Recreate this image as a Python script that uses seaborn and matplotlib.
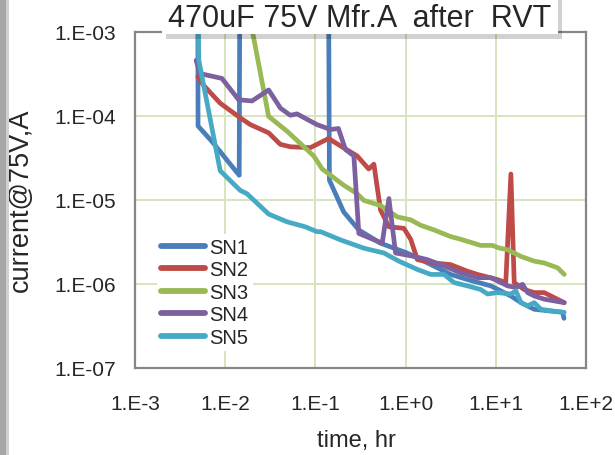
import numpy as np
import pandas as pd
import matplotlib
matplotlib.use("Agg")
import matplotlib.pyplot as plt
import matplotlib.ticker as mticker
from matplotlib.patches import Rectangle
import seaborn as sns

# leakage current vs time
sn1_t = [0.00497, 0.005, 0.0071, 0.0143, 0.0145, 0.14, 0.143, 0.206, 0.303, 0.527,
         1.04, 2.07, 3.16, 4.84, 8.8, 14.7, 19, 26.7, 55, 57]
sn1_i = [3e-3, 7.6e-5, 5.0e-5, 1.97e-5, 3e-3, 3e-3, 1.72e-5, 7.2e-6, 4.4e-6, 3.06e-6,
         2.34e-6, 1.63e-6, 1.3e-6, 1.13e-6, 9.5e-7, 7.2e-7, 6.0e-7, 5.0e-7, 4.6e-7, 3.9e-7]

sn2_t = [0.00497, 0.00574, 0.0088, 0.0147, 0.019, 0.0303, 0.0408, 0.0527, 0.088, 0.14,
         0.19, 0.29, 0.39, 0.445, 0.527, 0.653, 0.957, 1.14, 1.35, 2.07, 3.16, 4.84,
         6.26, 10.4, 12.9, 14.7, 16, 20.6, 26.7, 34.4, 57.4]
sn2_i = [2.93e-4, 2.33e-4, 1.42e-4, 9.5e-5, 7.9e-5, 6.3e-5, 4.6e-5, 4.3e-5, 4.2e-5, 5.4e-5,
         4.4e-5, 3.35e-5, 2.34e-5, 2.67e-5, 7.6e-6, 4.8e-6, 4.6e-6, 3.4e-6, 1.95e-6, 1.78e-6,
         1.7e-6, 1.42e-6, 1.3e-6, 1.13e-6, 1.04e-6, 2.04e-5, 1.04e-6, 8.6e-7, 7.9e-7, 7.9e-7,
         6.0e-7]

sn3_t = [0.0147, 0.0303, 0.0484, 0.0957, 0.119, 0.206, 0.29, 0.344, 0.527, 0.807, 1.14,
         1.47, 2.07, 3.16, 4.08, 6.8, 9.2, 10.9, 13.5, 19, 26.7, 34.4, 48.4, 57.4]
sn3_i = [5.8e-3, 9.9e-5, 6.6e-5, 3.35e-5, 2.34e-5, 1.5e-5, 1.19e-5, 9.9e-6, 8.6e-6, 6.3e-6,
         5.8e-6, 5.0e-6, 4.4e-6, 3.67e-6, 3.41e-6, 2.88e-6, 2.88e-6, 2.68e-6, 2.56e-6,
         2.13e-6, 1.87e-6, 1.78e-6, 1.56e-6, 1.3e-6]

sn4_t = [0.00476, 0.00527, 0.0092, 0.0141, 0.0198, 0.0303, 0.041, 0.0527, 0.0625, 0.104,
         0.147, 0.18, 0.215, 0.267, 0.303, 0.55, 0.653, 0.774, 1.24, 1.74, 2.45, 4.08, 6.26,
         8.8, 11.4, 13.5, 16.7, 19.8, 22.5, 26.7, 34.4, 57.4]
sn4_i = [4.6e-4, 3.2e-4, 2.8e-4, 1.56e-4, 1.51e-4, 2.04e-4, 1.24e-4, 1.02e-4, 1.06e-4, 7.9e-5,
         6.9e-5, 7.1e-5, 4.0e-5, 3.35e-5, 4.0e-6, 3.06e-6, 1.04e-5, 2.34e-6, 2.13e-6, 1.95e-6,
         1.7e-6, 1.36e-6, 1.19e-6, 1.19e-6, 1.04e-6, 9.5e-7, 9.1e-7, 9.9e-7, 7.9e-7, 7.2e-7,
         6.6e-7, 6.0e-7]

sn5_t = [0.00497, 0.0051, 0.0088, 0.0104, 0.0147, 0.0174, 0.0303, 0.0484, 0.077, 0.104,
         0.114, 0.19, 0.344, 0.574, 0.843, 1.35, 1.9, 2.67, 3.44, 4.84, 6.8, 8.1, 10.4, 14.7,
         16.7, 19, 22.5, 26.7, 31.6, 40.8, 57.4]
sn5_i = [3e-3, 4.6e-4, 2.23e-5, 1.87e-5, 1.3e-5, 1.19e-5, 6.8e-6, 5.5e-6, 4.8e-6, 4.2e-6,
         4.2e-6, 3.35e-6, 2.67e-6, 2.34e-6, 1.87e-6, 1.49e-6, 1.3e-6, 1.3e-6, 1.04e-6, 9.5e-7,
         8.6e-7, 7.6e-7, 7.9e-7, 7.6e-7, 8.3e-7, 6.0e-7, 5.5e-7, 6.0e-7, 5.0e-7, 4.8e-7, 4.6e-7]

series_names = ["SN1", "SN2", "SN3", "SN4", "SN5"]
series_colors = ["#4a7ebb", "#be4b48", "#98b954", "#7d60a0", "#46aac5"]
x_tick_labels = ["1.E-3", "1.E-2", "1.E-1", "1.E+0", "1.E+1", "1.E+2"]
y_tick_labels = ["1.E-07", "1.E-06", "1.E-05", "1.E-04", "1.E-03"]

frames = []
for name, t, i in zip(series_names, [sn1_t, sn2_t, sn3_t, sn4_t, sn5_t],
                      [sn1_i, sn2_i, sn3_i, sn4_i, sn5_i]):
    frames.append(pd.DataFrame({"time": t, "current": i, "sn": name}))
df = pd.concat(frames, ignore_index=True)

sns.set_style("white")
plt.rcParams["font.family"] = ["Liberation Sans", "DejaVu Sans"]
plt.rcParams["lines.solid_joinstyle"] = "round"
plt.rcParams["lines.solid_capstyle"] = "round"

W, H = 615, 456
fig = plt.figure(figsize=(6.15, 4.56), dpi=100)
ax = fig.add_axes([135 / W, 1 - 369 / H, 451 / W, 336 / H])

sns.lineplot(data=df, x="time", y="current", hue="sn", hue_order=series_names,
             palette=series_colors, estimator=None, sort=False, linewidth=3.4, ax=ax)

ax.set_xscale("log")
ax.set_yscale("log")
ax.set_xlim(1e-3, 1e2)
ax.set_ylim(1e-7, 1e-3)

ax.set_xticks([1e-3, 1e-2, 1e-1, 1e0, 1e1, 1e2])
ax.set_xticklabels(x_tick_labels)
ax.set_yticks([1e-7, 1e-6, 1e-5, 1e-4, 1e-3])
ax.set_yticklabels(y_tick_labels)
ax.xaxis.set_minor_locator(mticker.LogLocator(base=10, subs=np.arange(2, 10)))
ax.yaxis.set_minor_locator(mticker.LogLocator(base=10, subs=np.arange(2, 10)))
ax.xaxis.set_minor_formatter(mticker.NullFormatter())
ax.yaxis.set_minor_formatter(mticker.NullFormatter())

ax.grid(True, which="major", color="#d7e4bd", linewidth=1.4)
ax.tick_params(which="both", direction="in", color="#868686", width=1.2)
ax.tick_params(which="major", length=5, labelsize=15, pad=14)
ax.tick_params(which="minor", length=4)
ax.tick_params(axis="x", which="major", pad=19)
for s in ax.spines.values():
    s.set_color("#868686")
    s.set_linewidth(1.6)

ax.set_xlabel("")
ax.set_ylabel("")
fig.text(356 / W, 1 - 441 / H, "time, hr", ha="center", va="center", fontsize=17)
fig.text(21 / W, 1 - 200 / H, "current@75V,A", ha="center", va="center",
         rotation=90, fontsize=19.5)

leg = ax.legend(loc="upper left", bbox_to_anchor=(157 / W, 1 - 235 / H),
                bbox_transform=fig.transFigure, fontsize=14.5, frameon=True,
                facecolor="white", edgecolor="none", framealpha=1, borderpad=0.2,
                borderaxespad=0, labelspacing=0.17, handlelength=2.2,
                handletextpad=0.2, title=None)
for line in leg.get_lines():
    line.set_linewidth(4.2)

# title box with drop shadow
fig.patches.append(Rectangle((166 / W, 1 - 40 / H), 396 / W, 45 / H,
                             transform=fig.transFigure, facecolor="#000000",
                             alpha=0.18, edgecolor="none", zorder=5))
fig.patches.append(Rectangle((162 / W, 1 - 35 / H), 396 / W, 40 / H,
                             transform=fig.transFigure, facecolor="white",
                             edgecolor="none", zorder=6))
fig.text(360 / W, 1 - 19 / H, "470uF 75V Mfr.A  after  RVT", ha="center",
         va="center", fontsize=22, zorder=7)

# gray strip on the left edge
fig.patches.append(Rectangle((0, 0), 6 / W, 1, transform=fig.transFigure,
                             facecolor="#a6a6a6", edgecolor="none", zorder=4))
fig.patches.append(Rectangle((6 / W, 0), 3 / W, 1, transform=fig.transFigure,
                             facecolor="#d0d0d0", edgecolor="none", zorder=4))

fig.savefig("out.png", dpi=100)
